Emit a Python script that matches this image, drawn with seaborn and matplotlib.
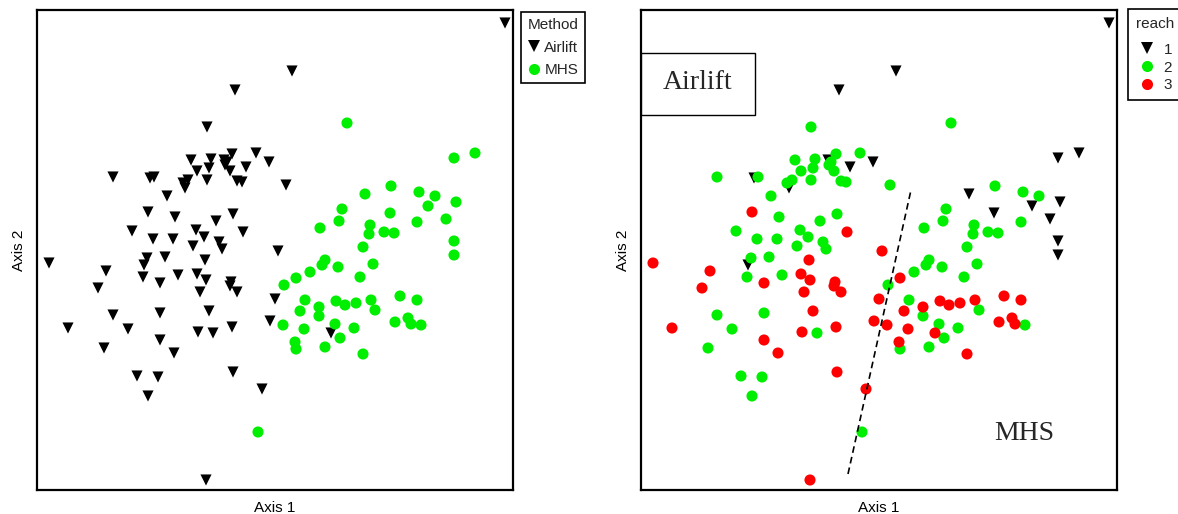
import matplotlib
matplotlib.use("Agg")
import matplotlib.pyplot as plt
import pandas as pd
import seaborn as sns
from matplotlib.patches import Rectangle

sns.set_theme(style="white")
plt.rcParams["font.family"] = ["Liberation Sans", "DejaVu Sans"]

# NMDS site scores (Axis 1, Axis 2) with sampling method and reach
axis1 = [
    # Airlift samples
    1.15, 0.085, -0.2, -0.34,
    -0.42, -0.32, -0.215, -0.24, -0.25, -0.095, -0.255, -0.145, -0.03, -0.33,
    -0.39, -0.225, -0.34, -0.19, -0.165, -0.435, -0.46, -0.45, -0.81, -0.625,
    -0.605, -0.54, -0.635, -0.5, -0.295, -0.21, -0.16, 0.055, -0.715, -0.61,
    -0.51, -0.395, -0.355, -0.41, -0.28, -0.265, -0.64, -0.55, -0.655, -1.13,
    -0.35, -0.845, -0.885, -0.66, -0.575, -0.485, -0.39, -0.345, -0.375, -0.22,
    -0.225, -0.19, -0.33, -0.81, -0.575, -1.035, -0.735, -0.385, -0.31, -0.215,
    -0.575, -0.505, -0.855, -0.21, -0.69, -0.585, -0.635, -0.065, -0.345, 0.015,
    0.0, -0.025, 0.28,
    # MHS samples
    0.36, -0.085, 0.45, 0.58, 0.72, 0.8, 0.895, 1.0, 0.765, 0.905,
    0.575, 0.855, 0.895, 0.895, 0.335, 0.32, 0.225, 0.475, 0.47, 0.545,
    0.595, 0.71, 0.44, 0.25, 0.235, 0.315, 0.49, 0.175, 0.105, 0.425,
    0.045, 0.15, 0.125, 0.22, 0.22, 0.305, 0.35, 0.405, 0.48, 0.5,
    0.625, 0.71, 0.04, 0.145, 0.3, 0.395, 0.6, 0.665, 0.68, 0.73,
    0.1, 0.105, 0.25, 0.325, 0.44,
]
axis2 = [
    # Airlift samples
    1.135, 0.895, 0.8, 0.615,
    0.45, 0.455, 0.48, 0.44, 0.425, 0.485, 0.45, 0.415, 0.44, 0.41,
    0.395, 0.395, 0.35, 0.345, 0.34, 0.35, 0.335, 0.31, 0.365, 0.36,
    0.365, 0.27, 0.19, 0.165, 0.145, 0.18, 0.09, 0.325, 0.095, 0.055,
    0.055, 0.1, 0.065, 0.02, 0.04, 0.005, -0.04, -0.035, -0.075, -0.065,
    -0.05, -0.105, -0.19, -0.135, -0.165, -0.125, -0.12, -0.15, -0.21, -0.16,
    -0.18, -0.21, -0.305, -0.325, -0.315, -0.39, -0.395, -0.41, -0.415, -0.385,
    -0.45, -0.515, -0.49, -0.61, -0.63, -0.635, -0.73, -0.695, -1.15, -0.005,
    -0.245, -0.355, -0.415,
    # MHS samples
    0.635, -0.91, 0.28, 0.32, 0.29, 0.27, 0.46, 0.485, 0.22, 0.24,
    0.185, 0.155, 0.045, -0.025, 0.205, 0.145, 0.11, 0.125, 0.08, 0.09,
    0.085, 0.14, 0.015, -0.05, -0.075, -0.085, -0.07, -0.11, -0.14, -0.135,
    -0.175, -0.25, -0.305, -0.285, -0.33, -0.255, -0.275, -0.265, -0.25, -0.3,
    -0.23, -0.25, -0.375, -0.395, -0.37, -0.39, -0.36, -0.34, -0.37, -0.375,
    -0.46, -0.495, -0.485, -0.44, -0.52,
]
method = ["Airlift"] * 77 + ["MHS"] * 55
reach = [
    # Airlift samples
    1, 1, 1, 2,
    2, 2, 2, 2, 2, 2, 1, 1, 1, 2,
    2, 2, 2, 2, 2, 2, 2, 1, 2, 1,
    2, 2, 3, 2, 2, 2, 3, 2, 2, 2,
    2, 2, 2, 2, 2, 2, 2, 2, 1, 3,
    3, 3, 3, 2, 3, 2, 3, 3, 3, 3,
    3, 3, 3, 2, 2, 3, 2, 3, 2, 3,
    3, 3, 2, 3, 2, 2, 2, 3, 3, 3,
    3, 3, 3,
    # MHS samples
    2, 2, 1, 2, 2, 2, 1, 1, 1, 1,
    1, 1, 1, 1, 2, 2, 2, 2, 2, 2,
    2, 2, 2, 2, 2, 2, 2, 2, 3, 2,
    2, 2, 3, 3, 2, 3, 3, 3, 3, 2,
    3, 3, 3, 3, 2, 2, 3, 3, 3, 2,
    3, 2, 2, 2, 3,
]

GREEN = "#00ee00"
RED = "#ff0000"

df = pd.DataFrame({"axis1": axis1, "axis2": axis2, "method": method,
                   "reach": [str(r) for r in reach]})

W, H = 1178, 514
fig = plt.figure(figsize=(W / 100, H / 100), dpi=100)
ax1 = fig.add_axes([37 / W, 24 / H, 476 / W, 480 / H])
ax2 = fig.add_axes([641 / W, 24 / H, 476 / W, 480 / H])

sns.scatterplot(data=df, x="axis1", y="axis2", hue="method", style="method",
                hue_order=["Airlift", "MHS"], style_order=["Airlift", "MHS"],
                markers={"Airlift": "v", "MHS": "o"},
                palette={"Airlift": "black", "MHS": GREEN},
                s=64, linewidth=0, ax=ax1)

df_r = df.sort_values("reach", kind="stable")
sns.scatterplot(data=df_r, x="axis1", y="axis2", hue="reach", style="reach",
                hue_order=["1", "2", "3"], style_order=["1", "2", "3"],
                markers={"1": "v", "2": "o", "3": "o"},
                palette={"1": "black", "2": GREEN, "3": RED},
                s=64, linewidth=0, ax=ax2)

for ax in (ax1, ax2):
    ax.set_xlim(-1.19, 1.19)
    ax.set_ylim(-1.2, 1.2)
    ax.set_xticks([])
    ax.set_yticks([])
    ax.set_xlabel("Axis 1", fontsize=11, labelpad=8, color="black")
    ax.set_ylabel("Axis 2", fontsize=11, labelpad=8, color="black")
    for sp in ax.spines.values():
        sp.set_color("black")
        sp.set_linewidth(1.6)

def boxed_legend(ax, title, anchor, handlelength, spacing, pad, title_gap):
    handles, labels = ax.get_legend_handles_labels()
    leg = ax.legend(handles, labels, title=title, loc="upper left",
                    bbox_to_anchor=anchor, borderaxespad=0, frameon=True,
                    fancybox=False, edgecolor="black", framealpha=1,
                    fontsize=11, title_fontsize=11, handlelength=handlelength,
                    handletextpad=0.3, labelspacing=spacing, borderpad=pad,
                    alignment="left")
    leg.get_frame().set_linewidth(1.2)
    # gap between the title and the first entry, in points
    leg._legend_box.sep = title_gap
    return leg

boxed_legend(ax1, "Method", (1.017, 0.996), 0.8, 0.55, 0.42, 6.0)
boxed_legend(ax2, "reach", (1.023, 1.002), 1.5, 0.25, 0.52, 8.5)

# Dashed separator between the two sampling methods
ax2.plot([-0.155, 0.16], [-1.12, 0.30], color="black", lw=1.2,
         ls=(0, (4, 2.5)))

# Method annotations
ax2.add_patch(Rectangle((0, 375 / 480), 114 / 476, 62 / 480,
                        transform=ax2.transAxes, facecolor="white",
                        edgecolor="black", lw=1.0, zorder=3))
ax2.text(57 / 476, 407 / 480, "Airlift", transform=ax2.transAxes,
         ha="center", va="center", fontsize=20, family="Liberation Serif",
         zorder=4)
ax2.text(383 / 476, 57 / 480, "MHS", transform=ax2.transAxes,
         ha="center", va="center", fontsize=20, family="Liberation Serif")

fig.savefig("out.png", dpi=100)
